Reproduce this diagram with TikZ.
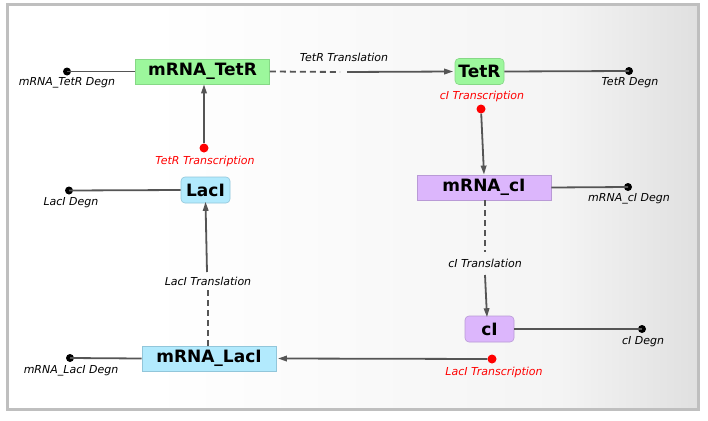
\documentclass[tikz,border=0pt]{standalone}
\usepackage{fontspec}
\setmainfont{DejaVu Sans}
\usetikzlibrary{arrows.meta}
\definecolor{framegray}{HTML}{BFBFBF}
\definecolor{bgmid}{HTML}{F4F4F4}
\definecolor{bgright}{HTML}{E0E0E0}
\definecolor{linegray}{HTML}{555555}
\definecolor{greenfill}{HTML}{9CF79C}
\definecolor{greenedge}{HTML}{86D886}
\definecolor{purplefill}{HTML}{DCB6FC}
\definecolor{purpleedge}{HTML}{B99AD6}
\definecolor{bluefill}{HTML}{B2EAFD}
\definecolor{blueedge}{HTML}{92C6DA}
\definecolor{redtx}{HTML}{FF0000}
\begin{document}
\begin{tikzpicture}[x=1pt,y=-1pt,
  mrnabox/.style={rectangle, minimum width=134, minimum height=25, inner sep=0pt,
    font=\bfseries\fontsize{17}{17}\selectfont, line width=0.8pt},
  protbox/.style={rectangle, rounded corners=4pt, minimum width=49, minimum height=26, inner sep=0pt,
    font=\bfseries\fontsize{17}{17}\selectfont, line width=0.6pt},
  greenstyle/.style={fill=greenfill, draw=greenedge},
  purplestyle/.style={fill=purplefill, draw=purpleedge},
  bluestyle/.style={fill=bluefill, draw=blueedge},
  degdot/.style={circle, fill=black, minimum size=8, inner sep=0pt},
  txdot/.style={circle, fill=redtx, minimum size=9, inner sep=0pt},
  lbl/.style={font=\itshape\fontsize{11}{11}\selectfont, inner sep=0pt},
  redlbl/.style={lbl, text=redtx},
  conn/.style={draw=linegray, line width=1.8pt},
  arr/.style={conn, -{Triangle[length=9pt,width=5.5pt]}},
  dashline/.style={conn, dash pattern=on 6pt off 4pt},
]
\useasboundingbox (0,0) rectangle (708,420);
% background
\fill[white] (7,5) rectangle (698,409);
\shade[left color=white, right color=bgmid] (150,5) rectangle (560,409);
\shade[left color=bgmid, right color=bgright] (559.5,5) rectangle (698,409);
\draw[framegray, line width=3pt] (7,5) rectangle (698,409);

% species nodes
\node[mrnabox, greenstyle] (mTetR) at (202.5,71.5) {mRNA\_TetR};
\node[protbox, greenstyle] (TetR) at (479.5,71.5) {TetR};
\node[mrnabox, purplestyle] (mcI) at (484,187.5) {mRNA\_cI};
\node[protbox, purplestyle] (cI) at (489.5,329) {cI};
\node[mrnabox, bluestyle] (mLacI) at (209,358.5) {mRNA\_LacI};
\node[protbox, bluestyle] (LacI) at (205.5,190) {LacI};

% degradation dots
\node[degdot] (mTetRdeg) at (67,71.5) {};
\node[degdot] (TetRdeg) at (629,71) {};
\node[degdot] (mcIdeg) at (628,187) {};
\node[degdot] (cIdeg) at (642,329) {};
\node[degdot] (mLacIdeg) at (70,358) {};
\node[degdot] (LacIdeg) at (69,190.5) {};

% transcription dots
\node[txdot] (cItx) at (481,109) {};
\node[txdot] (LacItx) at (492,359) {};
\node[txdot] (TetRtx) at (204,148) {};

% labels
\node[lbl] (mTetRdegL) at (67,83) {mRNA\_TetR Degn};
\node[lbl] (TetRdegL) at (630,83) {TetR Degn};
\node[lbl] (mcIdegL) at (629,199) {mRNA\_cI Degn};
\node[lbl] (cIdegL) at (643,342) {cI Degn};
\node[lbl] (mLacIdegL) at (71,371) {mRNA\_LacI Degn};
\node[lbl] (LacIdegL) at (71,203) {LacI Degn};
\node[redlbl] (cItxL) at (482,96) {cI Transcription};
\node[redlbl] (LacItxL) at (494,372) {LacI Transcription};
\node[redlbl] (TetRtxL) at (205,161) {TetR Transcription};
\node[lbl] (TetRtlL) at (344,57) {TetR Translation};
\node[lbl] (cItlL) at (485,263) {cI Translation};
\node[lbl] (LacItlL) at (208,281) {LacI Translation};

% translation break points
\coordinate (ta) at (340,72);
\coordinate (tb) at (347,72);
\coordinate (ca) at (485,252);
\coordinate (cb) at (485,275);
\coordinate (la) at (208,290);
\coordinate (lb) at (207,272);

% degradation connectors
\draw[conn] (mTetRdeg.center) -- (mTetR.west);
\draw[conn] (TetR.east) -- (TetRdeg.center);
\draw[conn] (mcI.east) -- (mcIdeg.center);
\draw[conn] (cI.east) -- (cIdeg.center);
\draw[conn] (mLacIdeg.center) -- (mLacI.west);
\draw[conn] (LacI.west) -- (LacIdeg.center);

% transcription connectors
\draw[arr] (cItx) -- (mcI.north);
\draw[arr] (LacItx) -- ([xshift=1.5pt]mLacI.east);
\draw[arr] (TetRtx) -- (mTetR.south -| TetRtx);

% translation connectors
\draw[dashline] (mTetR.east) -- (ta);
\draw[arr] (tb) -- ([xshift=-1.5pt]TetR.west);
\draw[dashline] (mcI.south -| ca) -- (ca);
\draw[arr] (cb) -- ([yshift=-1.5pt]cI.north -| 487,0);
\draw[dashline] (mLacI.north -| la) -- (la);
\draw[arr] (lb) -- ([yshift=1.5pt]LacI.south);
\end{tikzpicture}
\end{document}
